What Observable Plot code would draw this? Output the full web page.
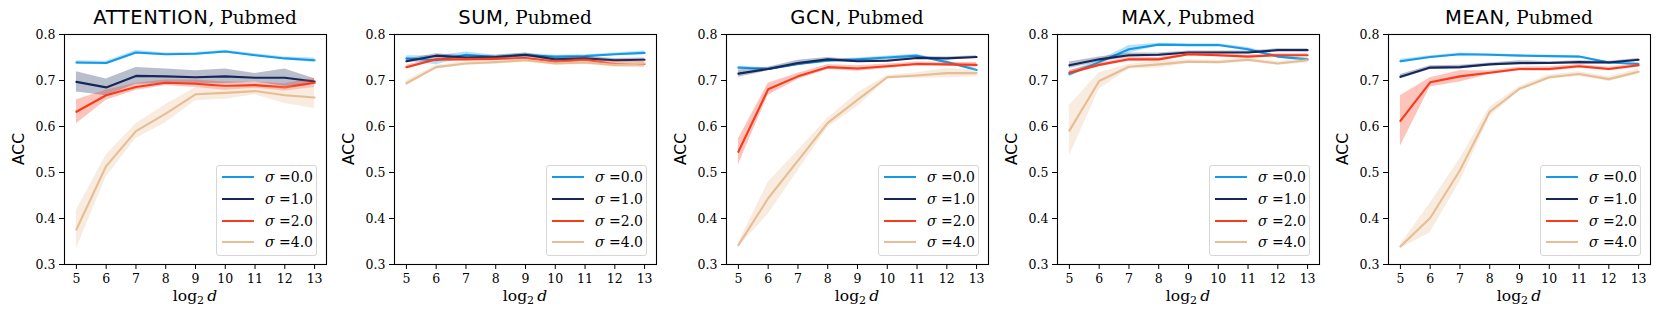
<!DOCTYPE html>
<html>
<head>
<meta charset="utf-8">
<script src="https://cdn.jsdelivr.net/npm/d3@7"></script>
<script src="https://cdn.jsdelivr.net/npm/@observablehq/plot@0.6"></script>
<style>
  body { margin: 0; background: #fff; }
  #fig { position: relative; width: 1660px; height: 323px; overflow: hidden; background: #fff; }
  .panel { position: absolute; top: 0; width: 331px; height: 323px; }
  .panel svg { position: absolute; left: 0; top: 0; overflow: visible; }
  .title { position: absolute; left: 64px; width: 262px; top: 6px; text-align: center; line-height: 24px; white-space: nowrap; color: #000; }
  .title .sans { font-family: "DejaVu Sans", sans-serif; font-size: 19.5px; letter-spacing: 0.6px; }
  .title .serif { font-family: "DejaVu Serif", serif; font-size: 18.5px; }
  .xlabel { position: absolute; left: 64px; width: 262px; top: 286px; text-align: center; font-family: "DejaVu Serif", serif; font-size: 15.5px; line-height: 20px; color: #000; }
  .xlabel sub { font-size: 11px; vertical-align: -3px; line-height: 0; }
  .ylabel { position: absolute; left: 18.5px; top: 149px; transform: translate(-50%, -50%) rotate(-90deg); font-family: "DejaVu Sans", sans-serif; font-size: 15.5px; white-space: nowrap; color: #000; }
  .legend { position: absolute; left: 216px; top: 165px; width: 101px; height: 91px; box-sizing: border-box; border: 1px solid #d6d6d6; border-radius: 3px; background: rgba(255,255,255,0.8); }
  .legend .row { position: absolute; left: 0; width: 100%; height: 0; }
  .legend .sw { position: absolute; left: 5px; width: 32px; height: 0; border-top: 2.2px solid; top: -1px; }
  .legend .lab { position: absolute; left: 48px; top: -10px; line-height: 20px; font-family: "DejaVu Serif", serif; font-size: 14px; white-space: nowrap; color: #000; }
</style>
</head>
<body>
<div id="fig"></div>
<script>
// ---- data ----
const xs = [5, 6, 7, 8, 9, 10, 11, 12, 13];
const sigmas = ["0.0", "1.0", "2.0", "4.0"];
const models = ["ATTENTION", "SUM", "GCN", "MAX", "MEAN"];
const dataset = "Pubmed";
const yTicks = [0.3, 0.4, 0.5, 0.6, 0.7, 0.8];

// mean accuracy per sigma (rows: σ=0,1,2,4), columns: log2 d = 5..13
const attentionMean = [
  [0.739, 0.738, 0.761, 0.757, 0.758, 0.763, 0.755, 0.748, 0.744],
  [0.697, 0.685, 0.710, 0.709, 0.707, 0.709, 0.706, 0.706, 0.698],
  [0.632, 0.668, 0.686, 0.695, 0.693, 0.688, 0.690, 0.685, 0.695],
  [0.376, 0.514, 0.590, 0.628, 0.670, 0.673, 0.677, 0.668, 0.663]
];
const attentionErr = [
  [0.004, 0.004, 0.004, 0.003, 0.003, 0.003, 0.003, 0.003, 0.005],
  [0.022, 0.018, 0.018, 0.016, 0.014, 0.016, 0.009, 0.019, 0.006],
  [0.026, 0.011, 0.008, 0.006, 0.008, 0.009, 0.007, 0.008, 0.010],
  [0.042, 0.024, 0.016, 0.020, 0.014, 0.014, 0.008, 0.018, 0.024]
];
const sumMean = [
  [0.748, 0.744, 0.756, 0.751, 0.755, 0.752, 0.753, 0.757, 0.760],
  [0.742, 0.754, 0.750, 0.751, 0.756, 0.746, 0.748, 0.744, 0.745],
  [0.729, 0.746, 0.746, 0.747, 0.749, 0.741, 0.745, 0.736, 0.736],
  [0.694, 0.729, 0.737, 0.740, 0.744, 0.737, 0.739, 0.734, 0.737]
];
const sumErr = [
  [0.006, 0.010, 0.006, 0.004, 0.004, 0.003, 0.003, 0.003, 0.004],
  [0.004, 0.004, 0.004, 0.004, 0.004, 0.004, 0.004, 0.004, 0.004],
  [0.004, 0.004, 0.003, 0.003, 0.003, 0.004, 0.004, 0.006, 0.007],
  [0.006, 0.004, 0.004, 0.004, 0.004, 0.004, 0.004, 0.005, 0.006]
];
const gcnMean = [
  [0.728, 0.725, 0.736, 0.743, 0.746, 0.750, 0.754, 0.740, 0.723],
  [0.715, 0.725, 0.738, 0.746, 0.742, 0.743, 0.749, 0.748, 0.751],
  [0.545, 0.681, 0.709, 0.729, 0.726, 0.731, 0.736, 0.735, 0.734],
  [0.342, 0.444, 0.526, 0.608, 0.658, 0.707, 0.711, 0.716, 0.716]
];
const gcnErr = [
  [0.003, 0.003, 0.003, 0.003, 0.003, 0.003, 0.003, 0.003, 0.003],
  [0.008, 0.004, 0.006, 0.004, 0.003, 0.003, 0.003, 0.003, 0.003],
  [0.028, 0.013, 0.007, 0.005, 0.006, 0.005, 0.004, 0.004, 0.005],
  [0.004, 0.035, 0.022, 0.010, 0.015, 0.004, 0.006, 0.010, 0.008]
];
const maxMean = [
  [0.714, 0.740, 0.768, 0.778, 0.777, 0.777, 0.768, 0.752, 0.746],
  [0.733, 0.746, 0.755, 0.756, 0.761, 0.761, 0.761, 0.766, 0.766],
  [0.717, 0.734, 0.746, 0.746, 0.757, 0.755, 0.752, 0.755, 0.755],
  [0.591, 0.699, 0.730, 0.735, 0.741, 0.740, 0.745, 0.737, 0.744]
];
const maxErr = [
  [0.006, 0.004, 0.008, 0.003, 0.003, 0.003, 0.004, 0.003, 0.003],
  [0.007, 0.005, 0.005, 0.004, 0.003, 0.003, 0.003, 0.003, 0.003],
  [0.005, 0.004, 0.004, 0.004, 0.004, 0.004, 0.003, 0.003, 0.003],
  [0.055, 0.018, 0.005, 0.008, 0.004, 0.004, 0.004, 0.004, 0.006]
];
const meanMean = [
  [0.742, 0.751, 0.757, 0.756, 0.754, 0.753, 0.752, 0.739, 0.736],
  [0.708, 0.728, 0.729, 0.735, 0.738, 0.738, 0.740, 0.739, 0.745],
  [0.612, 0.696, 0.709, 0.717, 0.725, 0.725, 0.731, 0.725, 0.733],
  [0.339, 0.401, 0.505, 0.632, 0.682, 0.707, 0.714, 0.703, 0.719]
];
const meanErr = [
  [0.004, 0.003, 0.003, 0.002, 0.002, 0.002, 0.002, 0.002, 0.003],
  [0.005, 0.004, 0.004, 0.003, 0.005, 0.003, 0.003, 0.003, 0.003],
  [0.055, 0.010, 0.012, 0.004, 0.004, 0.005, 0.004, 0.004, 0.004],
  [0.004, 0.032, 0.025, 0.010, 0.005, 0.005, 0.005, 0.005, 0.006]
];

// ---- styles / layout ----
const colors = ["#139be9", "#17275a", "#f73b1d", "#e7bd94"];
const panelLeft = [0, 330, 662, 993, 1324];
const seriesMeans = [attentionMean, sumMean, gcnMean, maxMean, meanMean];
const seriesErrs = [attentionErr, sumErr, gcnErr, maxErr, meanErr];
const tickFont = {fontFamily: "DejaVu Serif", fontSize: 12.5};

const fig = document.getElementById("fig");

models.forEach((model, m) => {
  const panel = document.createElement("div");
  panel.className = "panel";
  panel.style.left = panelLeft[m] + "px";

  const rows = [];
  sigmas.forEach((s, k) => {
    xs.forEach((x, i) => {
      const v = seriesMeans[m][k][i], e = seriesErrs[m][k][i];
      rows.push({x, y: v, lo: v - e, hi: v + e, sigma: s});
    });
  });

  const marks = [];
  sigmas.forEach((s, k) => {
    const d = rows.filter(r => r.sigma === s);
    marks.push(Plot.areaY(d, {x: "x", y1: "lo", y2: "hi", fill: colors[k], fillOpacity: 0.3}));
    marks.push(Plot.line(d, {x: "x", y: "y", stroke: colors[k], strokeWidth: 2.1}));
  });
  marks.push(Plot.axisX({ticks: xs, tickSize: 5, tickPadding: 5, label: null, tickFormat: d => String(d), ...tickFont, fill: "#000"}));
  marks.push(Plot.axisY({ticks: yTicks, tickSize: 5, tickPadding: 4, label: null, tickFormat: d3.format(".1f"), ...tickFont, fill: "#000"}));
  marks.push(Plot.frame({stroke: "#000", strokeWidth: 1.1}));

  const chart = Plot.plot({
    width: 331,
    height: 323,
    marginLeft: 64,
    marginRight: 5,
    marginTop: 34,
    marginBottom: 59,
    x: {domain: [4.6, 13.4]},
    y: {domain: [0.3, 0.8]},
    style: {fontFamily: "DejaVu Serif", fontSize: "12.5px", color: "#000", background: "transparent"},
    marks
  });
  panel.appendChild(chart);

  const title = document.createElement("div");
  title.className = "title";
  title.innerHTML = `<span class="sans">${model}</span><span class="serif">, ${dataset}</span>`;
  panel.appendChild(title);

  const xl = document.createElement("div");
  xl.className = "xlabel";
  xl.innerHTML = `log<sub>2</sub>&#8201;<i>d</i>`;
  panel.appendChild(xl);

  const yl = document.createElement("div");
  yl.className = "ylabel";
  yl.textContent = "ACC";
  panel.appendChild(yl);

  const lg = document.createElement("div");
  lg.className = "legend";
  const rowTops = [11, 33, 55, 76];
  sigmas.forEach((s, k) => {
    const r = document.createElement("div");
    r.className = "row";
    r.style.top = rowTops[k] + "px";
    r.innerHTML = `<div class="sw" style="border-color:${colors[k]}"></div><div class="lab"><i>σ</i> =${s}</div>`;
    lg.appendChild(r);
  });
  panel.appendChild(lg);

  fig.appendChild(panel);
});
</script>
</body>
</html>
